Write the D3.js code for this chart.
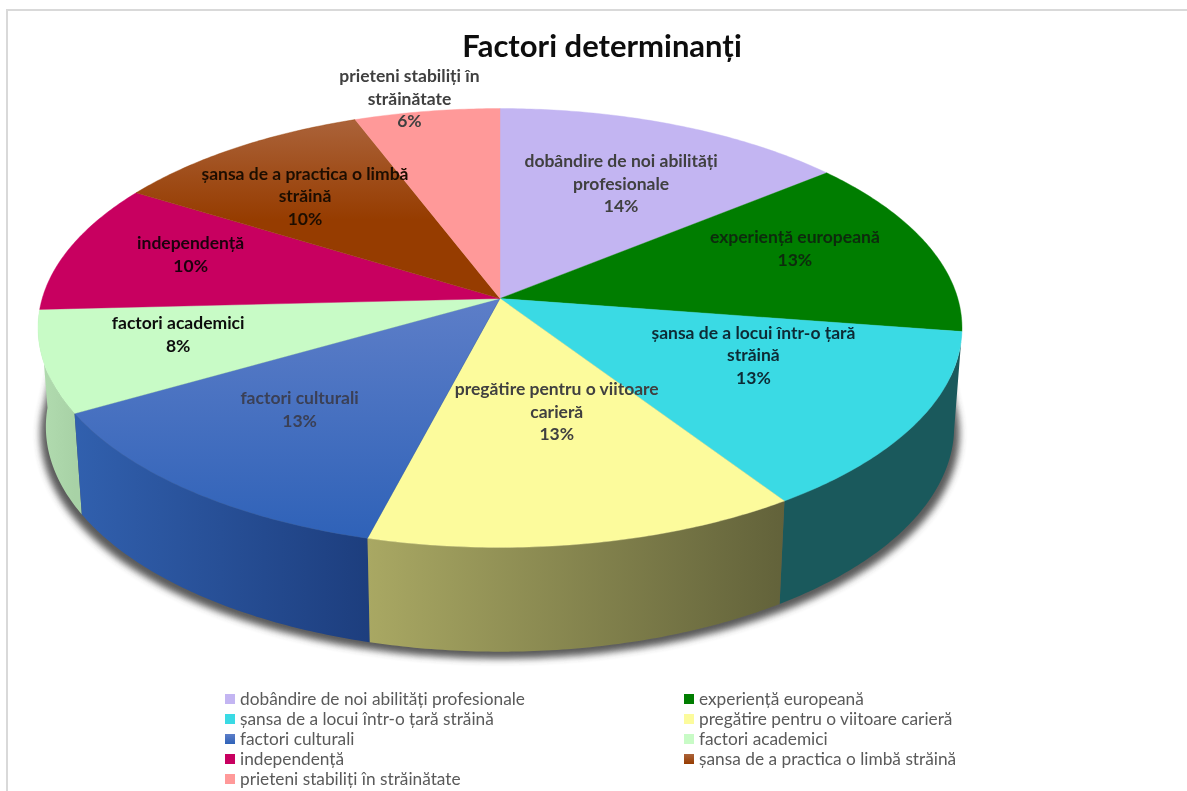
<!DOCTYPE html>
<html><head><meta charset="utf-8">
<script src="https://cdnjs.cloudflare.com/ajax/libs/d3/7.8.5/d3.min.js"></script>
<style>html,body{margin:0;padding:0;background:#fff;overflow:hidden}svg{display:block}</style>
</head><body><svg id="c" width="1187" height="791"></svg>
<script>
const categories=["dobândire de noi abilități profesionale","experiență europeană","șansa de a locui într-o țară străină","pregătire pentru o viitoare carieră","factori culturali","factori academici","independență","șansa de a practica o limbă străină","prieteni stabiliți în străinătate"];
const values=[14.1,13.3,13.3,13.35,12.65,7.5,9.6,10.4,5.8];
const labelLines=[["dobândire de noi abilități","profesionale"],["experiență europeană"],["șansa de a locui într-o țară","străină"],["pregătire pentru o viitoare","carieră"],["factori culturali"],["factori academici"],["independență"],["șansa de a practica o limbă","străină"],["prieteni stabiliți în","străinătate"]];
const topColors=[["#c3b5f2","#c3b5f2"],["#007d00","#007d00"],["#3adae4","#3adae4"],["#fcfb9c","#fcfb9c"],["#5d7ec8","#2f62b8"],["#c8fbc6","#c8fbc6"],["#c80060","#c80060"],["#ab633a","#963c00"],["#ff9999","#ff9999"]];
const sideColors=[["#888","#888"],["#040","#040"],["#1a595c","#1a595c"],["#a9a863","#62623a"],["#3160ae","#1d3e7e"],["#b2dcb0","#a8d2a6"],["#800040","#800040"],["#602800","#602800"],["#a06060","#a06060"]];
const labelColors=["#404040","#0b2b0b","#0c2c35","#404040","#3a3f55","#0d0d0d","#1f0010","#1f0e00","#404040"];
const labelNudge=[[8,-2],[27,-15],[3,-18],[6,-30],[-16,-2],[-43,-2],[-40,-11],[-25,-5],[-43,-78]];
const FONT="Lato, Carlito, sans-serif";

const svg=d3.select("#c"),defs=svg.append("defs");
const cx=500,cy=298.5,R=457.8,H=215.5,K=0.1344;
// perspective projection of the pie disc
const project=(a,r)=>{const u=r*Math.sin(a),v=-r*Math.cos(a),s=1/(1-K*v);return [cx+R*u*s,cy+H*v*s];};
// the base disc sits lower and slightly smaller
const lower=p=>[cx+(p[0]-cx)*0.983,cy+98+(p[1]-cy)*1.025];
const line=d3.line();
const arcPts=(a0,a1)=>{const n=Math.max(2,Math.ceil((a1-a0)*90));return d3.range(n+1).map(i=>project(a0+(a1-a0)*i/n,1));};
const pie=d3.pie().sort(null).value(d=>d)(values);
const PCT=d3.sum(values);

// frame
svg.append("path").attr("d","M7,791V10H1187").attr("fill","none").attr("stroke","#d9d9d9").attr("stroke-width",2);

// gradients
const grad=(id,c,x1,y1,x2,y2)=>{const g=defs.append("linearGradient").attr("id",id).attr("gradientUnits","userSpaceOnUse").attr("x1",x1).attr("y1",y1).attr("x2",x2).attr("y2",y2);
 g.append("stop").attr("offset",0).attr("stop-color",c[0]);g.append("stop").attr("offset",1).attr("stop-color",c[1]);};
pie.forEach((d,i)=>{
 const arc=arcPts(d.startAngle,d.endAngle);
 const ys=arc.concat([[cx,cy]]).map(p=>p[1]),xs=arc.map(p=>p[0]);
 grad("t"+i,topColors[i],0,d3.min(ys),0,i===7?d3.min(ys)+100:d3.max(ys));
 grad("s"+i,sideColors[i],d3.min(xs),0,d3.max(xs),0);
});
const blur=defs.append("filter").attr("id","blur").attr("x","-10%").attr("y","-10%").attr("width","120%").attr("height","120%");
blur.append("feGaussianBlur").attr("stdDeviation",3.5);
const soft=defs.append("filter").attr("id","soft").attr("x","-5%").attr("y","-5%").attr("width","110%").attr("height","110%");
soft.append("feGaussianBlur").attr("stdDeviation",.35);

// shadow beneath the base
const full=arcPts(Math.PI*0.5,Math.PI*1.5).map(lower);
const shadowPts=full.map(p=>[cx+(p[0]-cx)*1.012,p[1]+7]);
svg.append("path").attr("d",line(shadowPts.concat([[cx-440,330],[cx,300],[cx+440,330]]))+"Z").attr("fill","#3c3c3c").attr("opacity",.85).attr("filter","url(#blur)");

// side walls, back to front
const order=d3.range(pie.length).sort((a,b)=>Math.abs(((pie[b].startAngle+pie[b].endAngle)/2)-Math.PI)-Math.abs(((pie[a].startAngle+pie[a].endAngle)/2)-Math.PI));
svg.append("g").selectAll("path").data(order.filter(i=>{const m=(pie[i].startAngle+pie[i].endAngle)/2;return m>Math.PI/2&&m<Math.PI*1.55;})).join("path")
 .attr("d",i=>{const t=arcPts(pie[i].startAngle,pie[i].endAngle);return line(t.concat(t.map(lower).reverse()))+"Z";})
 .attr("fill",i=>`url(#s${i})`);

// top face
svg.append("g").selectAll("path").data(pie).join("path")
 .attr("d",d=>line([[cx,cy]].concat(arcPts(d.startAngle,d.endAngle)))+"Z")
 .attr("fill",(d,i)=>`url(#t${i})`).attr("stroke",(d,i)=>topColors[i][1]).attr("stroke-width",.4);

// data labels
const lab=svg.append("g").attr("font-family",FONT).attr("font-weight",700).attr("font-size",17.5).attr("text-anchor","middle").attr("filter","url(#soft)");
pie.forEach((d,i)=>{
 const p=project((d.startAngle+d.endAngle)/2,.62);
 const lines=labelLines[i].concat([Math.round(values[i]/PCT*100)+"%"]);
 const t=lab.append("text").attr("fill",labelColors[i]);
 lines.forEach((l,j)=>t.append("tspan").attr("x",p[0]+labelNudge[i][0]).attr("y",p[1]+labelNudge[i][1]+(j-(lines.length-1)/2)*22.6+5.5).text(l));
});

// title
svg.append("text").attr("x",602).attr("y",57).attr("text-anchor","middle").attr("font-family",FONT).attr("font-weight",700).attr("font-size",31).attr("fill","#111").attr("filter","url(#soft)").text("Factori determinanți");

// legend
const col=d3.scaleOrdinal().domain([0,1]).range([225,684]);
const row=d3.scalePoint().domain(d3.range(5)).range([699,779]);
const leg=svg.append("g").selectAll("g").data(categories).join("g").attr("transform",(d,i)=>`translate(${col(i%2)},${row(Math.floor(i/2))})`);
leg.append("rect").attr("x",0).attr("y",-5).attr("width",10).attr("height",10).attr("fill",(d,i)=>`url(#l${i})`);
categories.forEach((d,i)=>{const g=defs.append("linearGradient").attr("id","l"+i).attr("x1",0).attr("y1",0).attr("x2",0).attr("y2",1);
 g.append("stop").attr("offset",0).attr("stop-color",topColors[i][0]);g.append("stop").attr("offset",1).attr("stop-color",topColors[i][1]);});
leg.append("text").attr("x",15).attr("y",6).attr("font-family",FONT).attr("font-size",17.3).attr("fill","#5a5a5a").attr("filter","url(#soft)").text(d=>d);
</script></body></html>
